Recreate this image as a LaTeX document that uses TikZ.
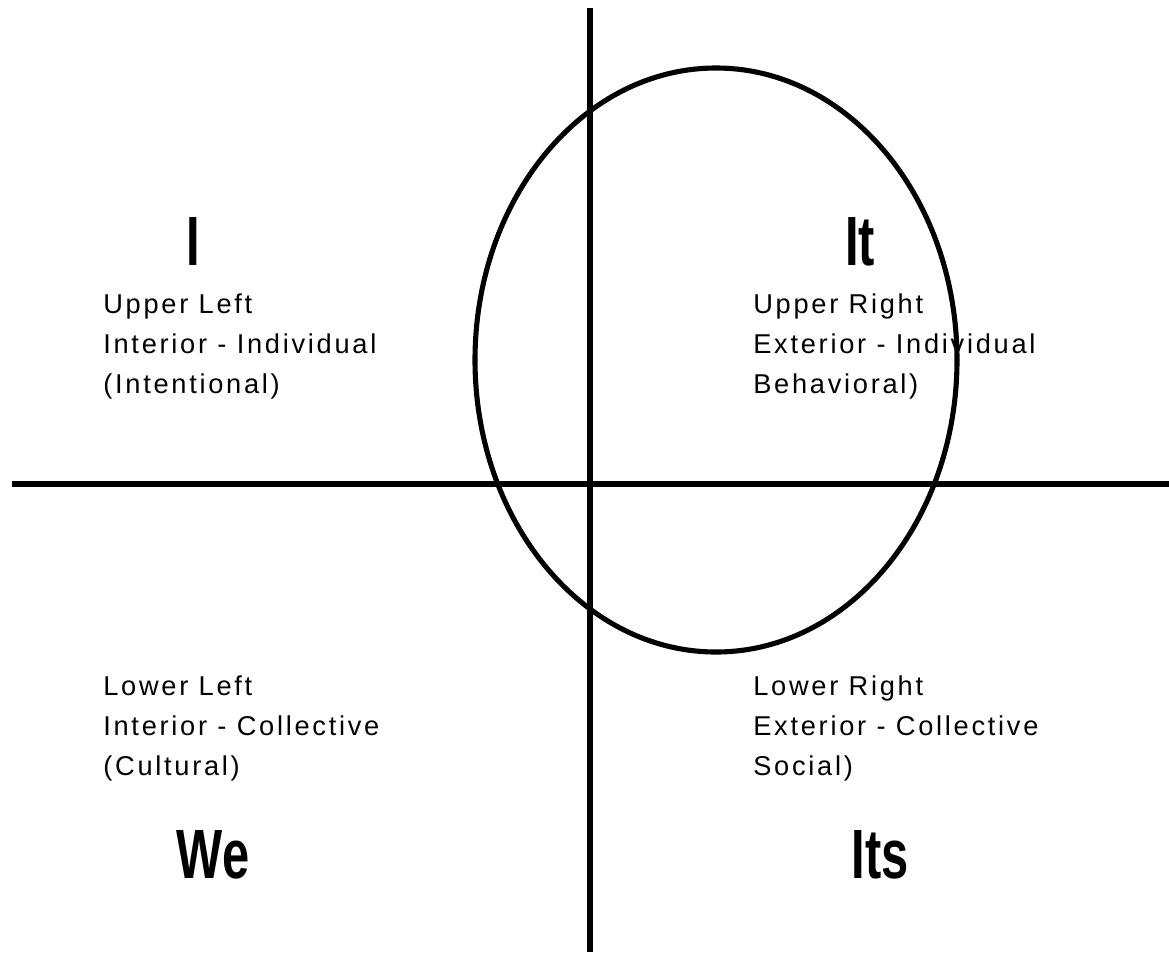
\documentclass[tikz,border=0pt]{standalone}
\usepackage{fontspec}
\setmainfont{Liberation Sans}
\newfontfamily\quadfont{Liberation Sans}[LetterSpace=10]
\newfontfamily\bigfont{Liberation Sans}[FakeStretch=0.7]
\begin{document}
\begin{tikzpicture}[x=0.02cm, y=-0.02cm,
  axis/.style={line width=3.4pt},
  quad/.style={anchor=base west, align=left, inner sep=0pt, font=\quadfont\fontsize{15.5pt}{22.7pt}\selectfont},
  big/.style={anchor=base, inner sep=0pt, font=\bigfont\bfseries\fontsize{39.7pt}{40pt}\selectfont}]
\useasboundingbox (0,0) rectangle (1169,954);
% axes
\coordinate (top) at (590,8);
\coordinate (bot) at (590,952);
\coordinate (lft) at (12,484);
\coordinate (rgt) at (1169,484);
\draw[axis] (top) -- (bot);
\draw[axis] (lft) -- (rgt);
% ellipse
\draw[line width=2.9pt] (716,360) ellipse [x radius=241, y radius=292];
% big labels
\node[big] (i) at (193,265) {I};
\node[big] (it) at (860,265) {It};
\node[big] (we) at (213,878) {We};
\node[big] (its) at (880,878) {Its};
% quadrant texts (anchored on the last line)
\node[quad] (ul) at (103,393) {Upper Left\\Interior - Individual\\(Intentional)};
\node[quad] (ur) at (753,393) {Upper Right\\Exterior - Individual\\Behavioral)};
\node[quad] (ll) at (103,775) {Lower Left\\Interior - Collective\\(Cultural)};
\node[quad] (lr) at (753,775) {Lower Right\\Exterior - Collective\\Social)};
\end{tikzpicture}
\end{document}
